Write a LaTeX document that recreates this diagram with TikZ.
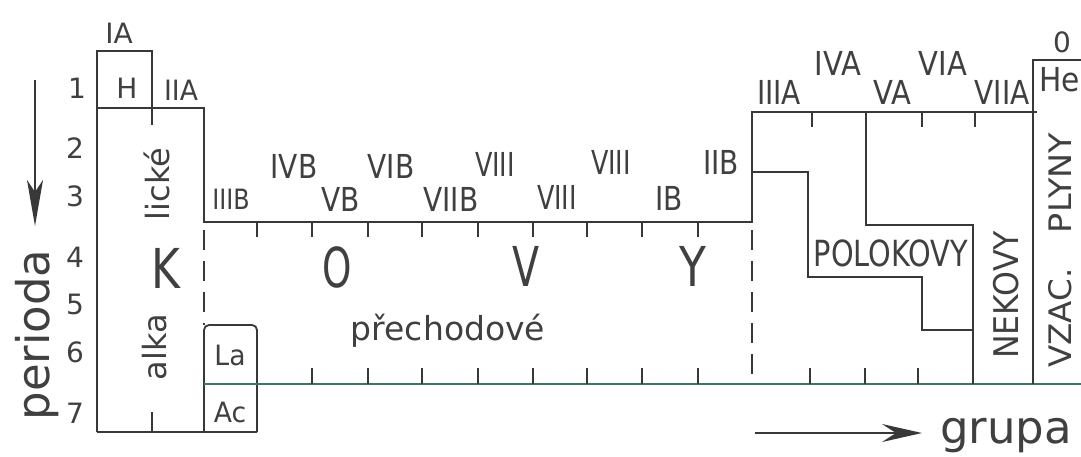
\documentclass[tikz,border=0pt]{standalone}
\usepackage{fontspec}
\usepackage{graphicx}
\setmainfont{DejaVu Sans}
\usetikzlibrary{arrows.meta}
\definecolor{lncol}{HTML}{383838}
\definecolor{txcol}{HTML}{404040}
\definecolor{grcol}{HTML}{3F7563}
\begin{document}
\begin{tikzpicture}[x=1pt,y=-1pt,
  ln/.style={draw=lncol, line width=1.8pt},
  tk/.style={draw=lncol, line width=1.5pt},
  dsh/.style={dash pattern=on 20pt off 11pt, dash phase=-8pt},
  gline/.style={draw=grcol, line width=1.8pt},
  t/.style={inner sep=0pt, text=txcol, font=\fontsize{33}{36}\selectfont},
  ts/.style={inner sep=0pt, text=txcol, font=\fontsize{28}{30}\selectfont},
  tr/.style={inner sep=0pt, text=txcol, font=\fontsize{33}{36}\selectfont},
  big/.style={inner sep=0pt, text=txcol, font=\fontsize{55}{60}\selectfont},
  wrd/.style={inner sep=0pt, text=txcol, font=\fontsize{32}{36}\selectfont},
  huge/.style={inner sep=0pt, text=txcol, font=\fontsize{45}{50}\selectfont},
  arr/.style={draw=lncol, line width=1.8pt}
]
\fill[white] (0,0) rectangle (1081,456);
\useasboundingbox (0,0) rectangle (1081,456);

% ---- frame lines ----
\draw[ln] (97,432) -- (97,51) -- (152,51) -- (152,125);
\draw[ln] (97,108) -- (204,108) -- (204,222) -- (752,222) -- (752,112) -- (1037,112);
\draw[ln] (97,432) -- (257,432);
\draw[tk] (152,432) -- (152,412);
\draw[ln,dsh] (204,222) -- (204,325);
\draw[ln,rounded corners=5pt] (204,432) -- (204,325) -- (257,325) -- (257,432);
\draw[gline] (204,384) -- (1081,384);
\foreach \x in {257,312,368,422,478,533,587,642,698} \draw[tk] (\x,222) -- (\x,237);
\foreach \x in {312,368,422,478,533,587,642,698,810,865,918} \draw[tk] (\x,384) -- (\x,368);
\draw[ln,dsh] (752,222) -- (752,384);
\foreach \x in {812,922,975} \draw[tk] (\x,112) -- (\x,127);
\draw[ln] (866,112) -- (866,225) -- (973,225) -- (973,384);
\draw[ln] (752,172) -- (808,172) -- (808,277) -- (922,277) -- (922,330) -- (973,330);
\draw[ln] (1033,384) -- (1033,60) -- (1081,60);

% ---- arrows ----
\coordinate (pa1) at (35,80);
\coordinate (pa2) at (35,226);
\draw[arr,-{Stealth[length=46pt,width=16pt,inset=12pt]}] (pa1) -- (pa2);
\coordinate (ga1) at (755,433);
\coordinate (ga2) at (922,433);
\draw[arr,-{Stealth[length=40pt,width=18pt,inset=14pt]}] (ga1) -- (ga2);

% ---- left labels ----
\node[ts] (lIA) at (119,33) {IA};
\node[ts] (lIIA) at (181,90) {\scalebox{0.95}[1]{IIA}};
\node[ts] (lH) at (127,88) {H};
\node[ts] (p1) at (77,88) {1};
\node[ts] (p2) at (75,148) {2};
\node[ts] (p3) at (75,196) {3};
\node[ts] (p4) at (75,257) {4};
\node[ts] (p5) at (75,304) {5};
\node[ts] (p6) at (75,352) {6};
\node[ts] (p7) at (75,413) {7};
\node[ts] (lLa) at (230,355) {\scalebox{0.95}[1]{La}};
\node[ts] (lAc) at (230,412) {\scalebox{0.95}[1]{Ac}};
\node[ts] (lIIIB) at (231,199) {\scalebox{0.85}[1]{IIIB}};

\node[huge,rotate=90] (perioda) at (37,335) {perioda};
\node[wrd,rotate=90] (alka) at (155,347) {alka};
\node[wrd,rotate=90] (licke) at (157,184) {lické};

% ---- big letters ----
\node[big] (bK) at (166,268) {\scalebox{0.8}[1]{K}};
\node[big] (bO) at (337,267) {\scalebox{0.68}[1]{O}};
\node[big] (bV) at (526,266) {\scalebox{0.72}[1]{V}};
\node[big] (bY) at (693,266) {\scalebox{0.8}[1]{Y}};

% ---- transition group labels ----
\node[t] (lIVB) at (294,166) {\scalebox{0.85}[1]{IVB}};
\node[t] (lVB) at (341,199) {\scalebox{0.85}[1]{VB}};
\node[t] (lVIB) at (391,166) {\scalebox{0.85}[1]{VIB}};
\node[t] (lVIIB) at (451,199) {\scalebox{0.85}[1]{VIIB}};
\node[t] (lVIIIa) at (495,164) {\scalebox{0.77}[1]{VIII}};
\node[t] (lVIIIb) at (557,197) {\scalebox{0.77}[1]{VIII}};
\node[t] (lVIIIc) at (611,162) {\scalebox{0.77}[1]{VIII}};
\node[t] (lIB) at (669,198) {\scalebox{0.85}[1]{IB}};
\node[t] (lIIB) at (721,162) {\scalebox{0.85}[1]{IIB}};
\node[wrd, anchor=base, font=\fontsize{33}{36}\selectfont] (prech) at (448,340) {přechodové};

% ---- right labels ----
\node[tr] (lIIIA) at (779,92) {\scalebox{0.85}[1]{IIIA}};
\node[tr] (lIVA) at (838,63) {\scalebox{0.88}[1]{IVA}};
\node[tr] (lVA) at (892,92) {\scalebox{0.88}[1]{VA}};
\node[tr] (lVIA) at (943,63) {\scalebox{0.88}[1]{VIA}};
\node[tr] (lVIIA) at (1002,92) {\scalebox{0.85}[1]{VIIA}};
\node[ts] (l0) at (1062,42) {0};
\node[tr, anchor=west] (lHe) at (1039,80) {\scalebox{0.9}[1]{He}};

\node[inner sep=0pt, text=txcol, font=\fontsize{36}{40}\selectfont] (polo) at (891,253) {\scalebox{0.8}[1]{POLOKOVY}};
\node[inner sep=0pt, text=txcol, font=\fontsize{34}{38}\selectfont, rotate=90] (nekovy) at (1006,295) {\scalebox{0.93}[1]{NEKOVY}};
\node[inner sep=0pt, text=txcol, font=\fontsize{31}{34}\selectfont, rotate=90] (vzac) at (1060,318) {\scalebox{1.05}[1]{VZAC.}};
\node[inner sep=0pt, text=txcol, font=\fontsize{31}{34}\selectfont, rotate=90] (plyny) at (1060,183) {\scalebox{1.08}[1]{PLYNY}};

\node[huge, anchor=base] (grupa) at (1006,443) {grupa};
\end{tikzpicture}
\end{document}
